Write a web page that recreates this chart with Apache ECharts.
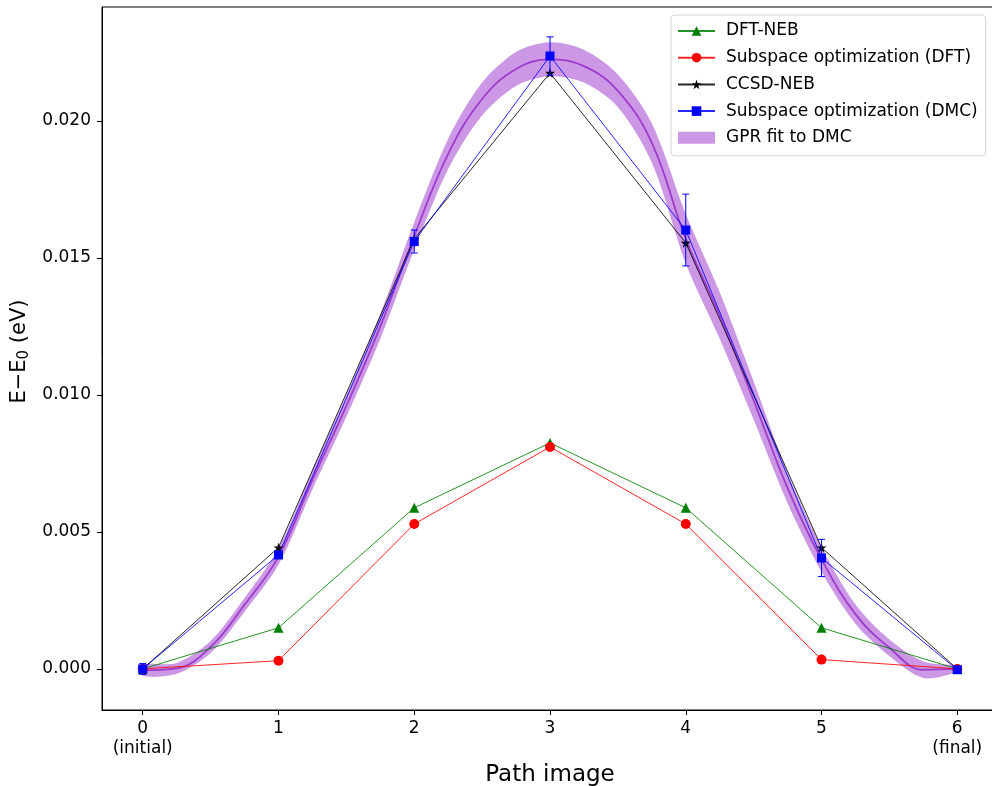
<!DOCTYPE html>
<html>
<head>
<meta charset="utf-8">
<script src="https://cdn.jsdelivr.net/npm/echarts@6/dist/echarts.min.js"></script>
<style>
  html, body { margin: 0; background: #fff; }
  #chart { width: 992px; height: 786px; }
</style>
</head>
<body>
<div id="chart"></div>
<script>
// path images along the reaction coordinate
const pathImages = [0, 1, 2, 3, 4, 5, 6];
const xTickLabels = ['0\n(initial)', '1', '2', '3', '4', '5', '6\n(final)'];
const yTicks = [0, 0.005, 0.01, 0.015, 0.02];

// energies relative to the initial image (eV)
const dftNeb = [0, 0.0015, 0.00588, 0.00825, 0.00588, 0.0015, 0];
const subspaceDft = [0, 0.0003, 0.00529, 0.0081, 0.00529, 0.00034, 0];
const ccsdNeb = [0, 0.00443, 0.0157, 0.02175, 0.01555, 0.00443, 0];
const subspaceDmc = [0, 0.00416, 0.0156, 0.02237, 0.01602, 0.00405, -0.00003];
const subspaceDmcErr = [0.0002, 0.00012, 0.00042, 0.0007, 0.00131, 0.00068, 0.0001];

// GPR fit to DMC (mean and half width of the band)
const gprX = [0, 0.25, 0.5, 0.75, 1, 1.25, 1.5, 1.75, 2, 2.25, 2.5, 2.75, 3,
  3.25, 3.5, 3.75, 4, 4.25, 4.5, 4.75, 5, 5.25, 5.5, 5.75, 6];
const gprMean = [-0.00005, 0.00002, 0.0008, 0.00234, 0.0041, 0.0069, 0.0096, 0.0125,
  0.0158, 0.0188, 0.0208, 0.0219, 0.02225, 0.022, 0.0211, 0.0192, 0.0157, 0.0129,
  0.0098, 0.0066, 0.004, 0.002, 0.00077, -0.00003, 0];
const gprBand = [0.0002, 0.0002, 0.00022, 0.00025, 0.0003, 0.00035, 0.0004, 0.00045,
  0.0005, 0.00055, 0.0006, 0.00062, 0.00062, 0.0006, 0.0006, 0.00072, 0.0009, 0.00085,
  0.0007, 0.00055, 0.00045, 0.00035, 0.0003, 0.0003, 0.0001];

const STAR = 'path://M50,0 L61,35 L98,35 L68,57 L79,91 L50,70 L21,91 L32,57 L2,35 L39,35 Z';
const BAND_COLOR = 'rgba(153,50,204,0.5)';
const FONT = 'DejaVu Sans';

const pairs = ys => pathImages.map((x, i) => [x, ys[i]]);

const chart = echarts.init(document.getElementById('chart'));

const lineSeries = (name, data, color, symbol, symbolSize) => ({
  name,
  type: 'line',
  data: pairs(data),
  symbol,
  symbolSize,
  z: 4,
  lineStyle: { color, width: 1, opacity: 0.85 },
  itemStyle: { color, opacity: 1 },
  emphasis: { disabled: true }
});

chart.setOption({
  animation: false,
  textStyle: { fontFamily: FONT },
  // the right spine sits just past the edge of the picture
  grid: {
    left: 102, right: -6, top: 7, bottom: 76,
    outerBoundsMode: 'none',
    containLabel: false,
    show: true, borderColor: '#000', borderWidth: 1
  },
  legend: {
    left: 671, top: 15,
    orient: 'vertical',
    padding: [7, 8, 9, 6],
    itemGap: 8.7,
    itemWidth: 37,
    itemHeight: 12,
    borderColor: '#d4d4d4', borderWidth: 1, borderRadius: 4,
    backgroundColor: 'rgba(255,255,255,0.8)',
    textStyle: { fontSize: 17, color: '#000', lineHeight: 18, padding: [0, 0, 0, 6] },
    data: [
      { name: 'DFT-NEB' },
      { name: 'Subspace optimization (DFT)' },
      { name: 'CCSD-NEB' },
      { name: 'Subspace optimization (DMC)' },
      { name: 'GPR fit to DMC', icon: 'rect', itemStyle: { color: BAND_COLOR } }
    ]
  },
  xAxis: {
    type: 'value',
    min: -0.3, max: 6.3,
    name: 'Path image',
    nameLocation: 'middle',
    nameGap: 54,
    nameTextStyle: { fontSize: 23, color: '#000' },
    axisLine: { onZero: false, lineStyle: { color: '#000' } },
    axisTick: { customValues: pathImages, length: 5, lineStyle: { color: '#000' } },
    axisLabel: {
      customValues: pathImages,
      formatter: v => xTickLabels[Math.round(v)],
      fontSize: 17, color: '#000', lineHeight: 20, margin: 9
    },
    splitLine: { show: false }
  },
  yAxis: {
    type: 'value',
    min: -0.0015, max: 0.02416,
    name: '{a|E−E}{s|0}{a| (eV)}',
    nameLocation: 'middle',
    nameGap: 58,
    nameRotate: 90,
    nameTextStyle: {
      color: '#000',
      padding: [0, 0, 0, 14],
      rich: {
        a: { fontSize: 21, color: '#000', fontFamily: FONT },
        s: { fontSize: 15, color: '#000', fontFamily: FONT, padding: [9, 0, 0, 0] }
      }
    },
    axisLine: { show: true, onZero: false, lineStyle: { color: '#000' } },
    axisTick: { show: true, customValues: yTicks, length: 5, lineStyle: { color: '#000' } },
    axisLabel: {
      customValues: yTicks,
      formatter: v => v.toFixed(3),
      fontSize: 17, color: '#000', margin: 11
    },
    splitLine: { show: false }
  },
  series: [
    {
      name: 'GPR fit to DMC',
      type: 'custom',
      z: 1,
      silent: true,
      itemStyle: { color: BAND_COLOR },
      data: gprX.map((x, i) => [x, gprMean[i] - gprBand[i], gprMean[i] + gprBand[i]]),
      encode: { x: 0, y: [1, 2] },
      renderItem(params, api) {
        // the whole band is one polygon, drawn once
        if (params.dataIndex !== 0) return null;
        const upper = gprX.map((x, i) => api.coord([x, gprMean[i] + gprBand[i]]));
        const lower = gprX.map((x, i) => api.coord([x, gprMean[i] - gprBand[i]])).reverse();
        return {
          type: 'polygon',
          shape: { points: upper.concat(lower), smooth: 0.3 },
          style: { fill: BAND_COLOR, stroke: null }
        };
      }
    },
    {
      name: 'gpr-mean',
      type: 'line',
      smooth: 0.4,
      symbol: 'none',
      z: 2,
      lineStyle: { color: '#9932cc', width: 1.8, opacity: 0.9 },
      data: gprX.map((x, i) => [x, gprMean[i]])
    },
    lineSeries('DFT-NEB', dftNeb, '#008000', 'triangle', 10),
    lineSeries('Subspace optimization (DFT)', subspaceDft, '#ff0000', 'circle', 10),
    lineSeries('CCSD-NEB', ccsdNeb, '#000000', STAR, 10),
    lineSeries('Subspace optimization (DMC)', subspaceDmc, '#0000ff', 'rect', 9),
    {
      type: 'custom',
      z: 5,
      data: pathImages.map((x, i) => [x, subspaceDmc[i] - subspaceDmcErr[i], subspaceDmc[i] + subspaceDmcErr[i]]),
      encode: { x: 0, y: [1, 2] },
      renderItem(params, api) {
        const x = api.value(0);
        const lo = api.coord([x, api.value(1)]);
        const hi = api.coord([x, api.value(2)]);
        const cap = 3.5;
        const style = { stroke: '#0000ff', lineWidth: 1 };
        return {
          type: 'group',
          children: [
            { type: 'line', shape: { x1: lo[0], y1: lo[1], x2: hi[0], y2: hi[1] }, style },
            { type: 'line', shape: { x1: lo[0] - cap, y1: lo[1], x2: lo[0] + cap, y2: lo[1] }, style },
            { type: 'line', shape: { x1: hi[0] - cap, y1: hi[1], x2: hi[0] + cap, y2: hi[1] }, style }
          ]
        };
      }
    }
  ]
});
</script>
</body>
</html>
